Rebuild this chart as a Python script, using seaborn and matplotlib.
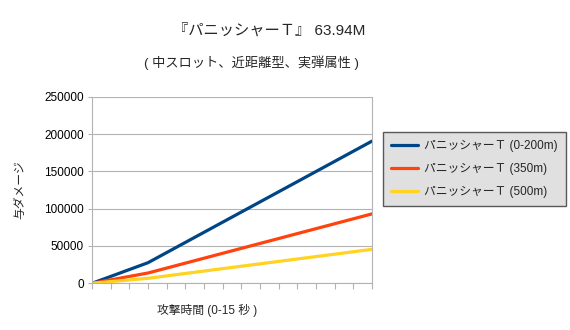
import matplotlib
matplotlib.use("Agg")
import matplotlib.pyplot as plt
import seaborn as sns
import pandas as pd

seconds = [0, 3, 15]
series_names = ["パニッシャーＴ (0-200m)", "パニッシャーＴ (350m)", "パニッシャーＴ (500m)"]
dmg_0_200 = [0, 27600, 190500]
dmg_350 = [0, 13800, 93000]
dmg_500 = [0, 6700, 45500]
colors = ["#004586", "#ff420e", "#ffd320"]
yticks = [0, 50000, 100000, 150000, 200000, 250000]

sns.set_theme(style="white")
plt.rcParams['font.family'] = ['Liberation Sans', 'Noto Sans CJK JP']

rows = []
for name, vals in zip(series_names, [dmg_0_200, dmg_350, dmg_500]):
    for s, v in zip(seconds, vals):
        rows.append({"sec": s, "dmg": v, "series": name})
df = pd.DataFrame(rows)

fig = plt.figure(figsize=(5.7, 3.3), dpi=100)
ax = fig.add_axes([92/570, 1-283.3/330, (372-92)/570, (283.3-96.7)/330])

sns.lineplot(data=df, x="sec", y="dmg", hue="series", palette=colors,
             hue_order=series_names, linewidth=2.3, ax=ax, legend=True)

ax.set_xlim(0, 15)
ax.set_ylim(0, 250000)
ax.set_xticks(range(0, 16))
ax.set_xticklabels([])
ax.set_yticks(yticks)
ax.set_yticklabels([str(v) for v in yticks], fontsize=8.5, color="#000000")
ax.yaxis.grid(True, color="#b3b3b3", linewidth=0.8)
ax.set_axisbelow(True)
for side in ["left", "bottom", "right", "top"]:
    ax.spines[side].set_color("#b3b3b3")
    ax.spines[side].set_linewidth(0.8)
ax.spines["top"].set_visible(False)
ax.tick_params(axis="x", direction="out", length=4, color="#b3b3b3", width=0.8, bottom=True)
ax.tick_params(axis="y", direction="out", length=3, color="#b3b3b3", width=0.8, left=True, pad=3)
ax.set_xlabel("攻撃時間 (0-15 秒 )", fontsize=8.5)
ax.xaxis.set_label_coords((207-92)/280, -(310-283.3)/186.6)
ax.xaxis.label.set_va("center")
ax.set_ylabel("与ダメージ", fontsize=8.5)
ax.yaxis.set_label_coords(-(92-20)/280, (283.3-190)/186.6)
ax.yaxis.label.set_va("center")

leg = ax.legend(loc="upper left", bbox_to_anchor=(383/570, 1-132/330), bbox_transform=fig.transFigure,
                frameon=True, fontsize=8.5, handlelength=2.3, handletextpad=0.5,
                borderpad=0.7, labelspacing=0.9, fancybox=False, borderaxespad=0)
leg.get_frame().set_facecolor("#d9d9d9")
leg.get_frame().set_edgecolor("#333333")
leg.get_frame().set_linewidth(1.0)
for line in leg.get_lines():
    line.set_linewidth(2.3)

fig.text(269/570, 1-30/330, "『パニッシャーＴ』 63.94M", ha="center", va="center", fontsize=11)
fig.text(251/570, 1-63/330, "( 中スロット、近距離型、実弾属性 )", ha="center", va="center", fontsize=9.5)

fig.savefig("out.png", dpi=100)
